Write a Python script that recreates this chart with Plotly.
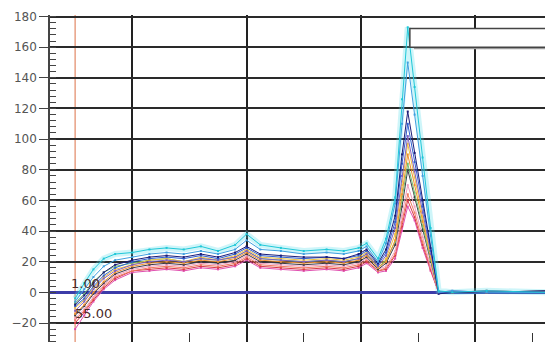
import plotly.graph_objects as go

# Sample positions (run time) shared by every trace
x_pos = [0.50, 0.58, 0.66, 0.75, 0.85, 1.00, 1.15, 1.30, 1.45, 1.60, 1.75, 1.90,
         2.00, 2.12, 2.30, 2.50, 2.70, 2.85, 2.98, 3.05, 3.15, 3.22, 3.30, 3.36,
         3.41, 3.47, 3.54, 3.61, 3.68, 3.80, 4.10, 4.62]

# Signal traces, highest peak first
cyan = [-4, 6, 15, 22, 25, 26, 28, 29, 28, 30, 27, 31, 38, 31, 29, 27, 28, 27, 29, 32,
        22, 35, 62, 126, 173, 134, 88, 42, 1, 0, 1, 0]
sky = [-6, 2, 10, 17, 21, 23, 25, 26, 25, 27, 25, 28, 34, 28, 27, 25, 26, 25, 27, 30,
       20, 32, 58, 110, 150, 116, 76, 37, 0, 1, 0, 0]
navy = [-8, -2, 6, 13, 18, 21, 23, 24, 23, 25, 23, 26, 30, 25, 24, 23, 23, 22, 25, 28,
        19, 28, 50, 90, 118, 91, 60, 29, -1, 0, 0, 1]
blue = [-9, -4, 4, 11, 16, 20, 22, 23, 22, 24, 22, 25, 29, 24, 23, 22, 23, 22, 24, 27,
        18, 26, 46, 84, 110, 85, 56, 27, 0, 0, 1, 0]
purple = [-12, -6, 2, 9, 14, 18, 20, 21, 20, 22, 21, 23, 27, 22, 21, 20, 21, 20, 22, 25,
          17, 24, 42, 76, 102, 79, 52, 25, 0, 1, 0, 0]
gold = [-10, -5, 3, 10, 15, 18, 21, 22, 20, 23, 21, 24, 28, 23, 22, 21, 22, 21, 23, 26,
        17, 22, 38, 70, 97, 75, 49, 24, 0, 0, 0, 0]
amber = [-14, -8, 0, 7, 13, 17, 19, 20, 19, 21, 20, 22, 26, 21, 20, 19, 20, 19, 21, 24,
         16, 20, 34, 64, 90, 70, 46, 22, 0, 0, 1, 0]
green = [-7, -1, 7, 13, 17, 19, 21, 22, 20, 22, 21, 23, 27, 22, 21, 20, 21, 20, 22, 25,
         16, 21, 33, 60, 84, 65, 43, 21, 0, 0, 0, 0]
dark = [-15, -9, -1, 6, 12, 16, 18, 19, 18, 20, 19, 21, 25, 20, 19, 18, 19, 18, 20, 23,
        15, 19, 31, 56, 80, 62, 41, 20, 0, 0, 0, 1]
pink = [-17, -11, -3, 5, 11, 15, 17, 18, 17, 19, 18, 20, 24, 19, 18, 17, 18, 17, 19, 22,
        15, 17, 27, 50, 70, 56, 36, 17, 0, 0, 0, 0]
salmon = [-18, -12, -4, 4, 10, 14, 16, 17, 16, 18, 17, 19, 23, 18, 17, 16, 17, 16, 18, 21,
          14, 16, 25, 46, 64, 52, 33, 16, 0, 0, 0, 0]
red = [-20, -13, -5, 3, 9, 14, 15, 16, 15, 17, 16, 18, 22, 17, 16, 15, 16, 15, 17, 20,
       14, 15, 24, 43, 60, 49, 31, 15, 0, 0, 0, 0]
magenta = [-24, -15, -6, 2, 8, 13, 14, 15, 14, 16, 15, 17, 21, 16, 15, 14, 15, 14, 16, 19,
           13, 14, 22, 40, 56, 47, 29, 14, 0, 0, 0, 0]

series = [
    ("magenta", magenta, "#e050b0"),
    ("red", red, "#d83848"),
    ("salmon", salmon, "#f07a60"),
    ("pink", pink, "#f0a0c0"),
    ("dark", dark, "#3a3a48"),
    ("green", green, "#70c070"),
    ("amber", amber, "#f09030"),
    ("gold", gold, "#f0c040"),
    ("purple", purple, "#8060c0"),
    ("blue", blue, "#3060d0"),
    ("navy", navy, "#1c1c78"),
    ("sky", sky, "#40a0e0"),
    ("cyan", cyan, "#20c8d8"),
]

# Marker line and its labels
marker_x = 0.50
marker_labels = ["1.00", "55.00"]
marker_label_y = [6, -13.5]

# Y axis ticks
y_ticks = [-20, 0, 20, 40, 60, 80, 100, 120, 140, 160, 180]

fig = go.Figure()

# soft glow under the tallest trace
fig.add_trace(go.Scatter(x=x_pos, y=cyan, mode="lines",
                         line=dict(color="rgba(80,220,235,0.28)", width=6),
                         hoverinfo="skip", showlegend=False))

for name, vals, col in series:
    fig.add_trace(go.Scatter(x=x_pos, y=vals, mode="lines+markers", name=name,
                             line=dict(color=col, width=1.0),
                             marker=dict(size=2, color=col, symbol="square"),
                             showlegend=False))

fig.add_shape(type="line", xref="x", yref="paper", x0=marker_x, x1=marker_x,
              y0=0, y1=1, line=dict(color="#e8a084", width=1.5), layer="below")

fig.add_annotation(x=marker_x, y=marker_label_y[0], text=marker_labels[0],
                   xanchor="left", yanchor="middle", showarrow=False, xshift=-6,
                   font=dict(family="DejaVu Sans", size=13, color="#4a2a2a"))
fig.add_annotation(x=marker_x, y=marker_label_y[1], text=marker_labels[1],
                   xanchor="left", yanchor="middle", showarrow=False, xshift=-2,
                   font=dict(family="DejaVu Sans", size=13, color="#4a2a2a"))

# empty legend frame in the upper right, with a drop shadow
fig.add_shape(type="rect", xref="paper", yref="y", x0=0.735, x1=1.05, y0=158.6, y1=170.9,
              line=dict(width=0), fillcolor="#9a9a9a", layer="above")
fig.add_shape(type="rect", xref="paper", yref="y", x0=0.727, x1=1.05, y0=160, y1=172.2,
              line=dict(color="#444444", width=1.5), fillcolor="white", layer="above")

fig.update_layout(
    width=545, height=342,
    margin=dict(l=50, r=0, t=15, b=0),
    paper_bgcolor="white", plot_bgcolor="white",
    showlegend=False,
    xaxis=dict(range=[0.28, 4.611], showticklabels=False, showline=False,
               tickvals=[1, 2, 3, 4], ticks="", showgrid=True,
               gridcolor="#222222", gridwidth=1.7, zeroline=False,
               minor=dict(tickvals=[1.5, 2.5, 3.5, 4.5], ticks="inside",
                          ticklen=9, tickcolor="#333333", tickwidth=1.2,
                          showgrid=False)),
    yaxis=dict(range=[-32.4, 181.0], tickvals=y_ticks, ticks="outside", ticklen=9,
               tickcolor="#444444", tickwidth=1.2,
               showline=True, linecolor="#444444", linewidth=1.5,
               showgrid=True, gridcolor="#2a2a2a", gridwidth=1.7,
               zeroline=True, zerolinecolor="#3c3ca8", zerolinewidth=2.5,
               tickfont=dict(family="DejaVu Sans", size=12, color="#555555"),
               minor=dict(dtick=4, ticks="inside", ticklen=6, tickcolor="#444444",
                          tickwidth=1.2, showgrid=False)),
)

fig.write_html("out.html")
